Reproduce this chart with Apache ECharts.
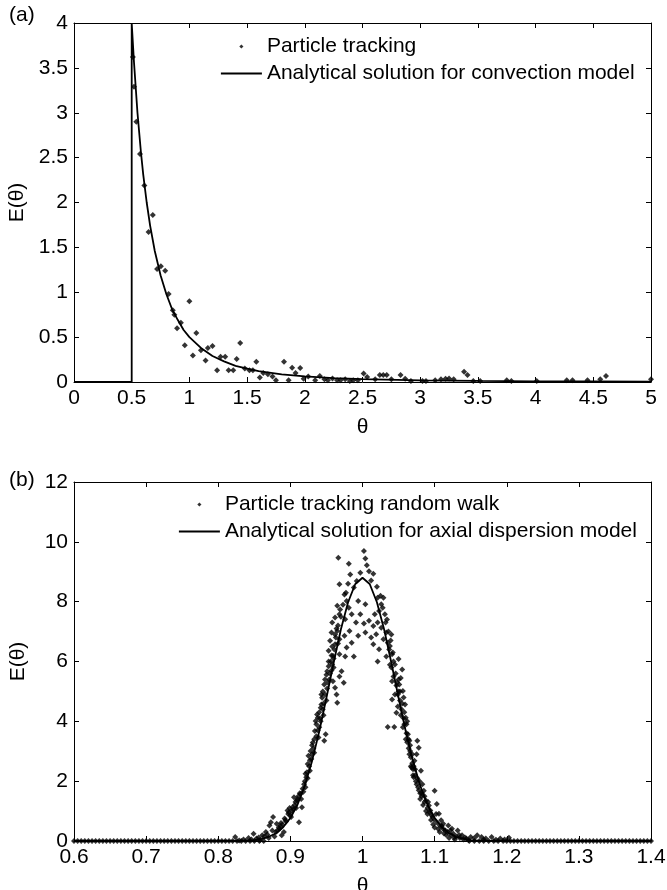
<!DOCTYPE html>
<html>
<head>
<meta charset="utf-8">
<script src="https://cdn.jsdelivr.net/npm/echarts@6/dist/echarts.min.js"></script>
<style>
html, body { margin: 0; background: #fff; }
#chart { width: 667px; height: 890px; }
</style>
</head>
<body>
<div id="chart"></div>
<script>
// (a) convection model: analytical curve
var convTheta = [0, 0.5, 0.5, 0.52, 0.55, 0.58, 0.6, 0.63, 0.66, 0.7, 0.75, 0.8, 0.85, 0.9, 0.95, 1.0,
    1.1, 1.2, 1.3, 1.4, 1.5, 1.6, 1.8, 2.0, 2.25, 2.5, 3.0, 3.5, 4.0, 4.5, 5.0];
var convE = [0, 0, 4, 3.56, 3.0, 2.56, 2.31, 2.0, 1.74, 1.46, 1.19, 0.98, 0.81, 0.69, 0.58, 0.5,
    0.38, 0.29, 0.23, 0.18, 0.15, 0.12, 0.086, 0.063, 0.044, 0.032, 0.019, 0.012, 0.008, 0.006, 0.004];

// (a) particle tracking points [theta, E]
var trackPts = [
    [0.51, 3.62], [0.52, 3.29], [0.54, 2.9], [0.572, 2.54], [0.61, 2.19], [0.646, 1.67], [0.683, 1.86], [0.72, 1.26],
    [0.753, 1.29], [0.79, 1.24], [0.82, 0.98], [0.856, 0.8], [0.87, 0.75], [0.893, 0.6], [0.926, 0.66],
    [0.96, 0.41], [1.0, 0.9], [1.03, 0.295], [1.06, 0.546], [1.1, 0.354], [1.14, 0.24], [1.16, 0.38],
    [1.2, 0.4], [1.24, 0.13], [1.27, 0.28], [1.31, 0.28], [1.34, 0.13], [1.38, 0.13], [1.41, 0.255],
    [1.44, 0.435], [1.48, 0.15], [1.52, 0.13], [1.55, 0.13], [1.58, 0.225], [1.61, 0.05], [1.64, 0.1],
    [1.68, 0.085], [1.72, 0.06], [1.75, 0.02], [1.82, 0.225], [1.86, 0.02], [1.89, 0.16], [1.92, 0.1],
    [1.96, 0.155], [1.99, 0.035], [2.03, 0.06], [2.09, 0.02], [2.13, 0.066], [2.17, 0.03], [2.2, 0.02],
    [2.24, 0.04], [2.28, 0.02], [2.31, 0.02], [2.35, 0.03], [2.39, 0.01], [2.42, 0.02], [2.46, 0.02],
    [2.51, 0.095], [2.54, 0.055], [2.61, 0.03], [2.65, 0.077], [2.68, 0.077], [2.71, 0.077], [2.75, 0.03],
    [2.83, 0.077], [2.87, 0.037], [2.92, 0.01], [3.02, 0.01], [3.05, 0.01], [3.13, 0.02], [3.18, 0.03],
    [3.22, 0.037], [3.25, 0.04], [3.29, 0.03], [3.38, 0.114], [3.41, 0.077], [3.46, 0.01], [3.52, 0.01],
    [3.75, 0.02], [3.79, 0.01], [4.01, 0.01], [4.27, 0.02], [4.32, 0.02], [4.45, 0.02], [4.56, 0.03],
    [4.61, 0.066], [5.0, 0.03]
];

// (b) axial dispersion model: analytical curve
var dispTheta = [0.6, 0.84, 0.85, 0.86, 0.87, 0.88, 0.89, 0.9, 0.91, 0.92, 0.93, 0.94, 0.95, 0.96, 0.97,
    0.98, 0.99, 1.0, 1.01, 1.02, 1.03, 1.04, 1.05, 1.06, 1.07, 1.08, 1.09, 1.1, 1.11, 1.12, 1.13, 1.14,
    1.15, 1.16, 1.4];
var dispE = [0, 0.01, 0.03, 0.07, 0.14, 0.26, 0.46, 0.77, 1.22, 1.85, 2.67, 3.66, 4.79, 5.96, 7.07,
    7.98, 8.59, 8.8, 8.59, 7.98, 7.07, 5.96, 4.79, 3.66, 2.67, 1.85, 1.22, 0.77, 0.46, 0.26, 0.14, 0.07,
    0.03, 0.01, 0];

// (b) random walk points [theta, E]
var walkPeak = [
    [0.9665, 9.47], [0.981, 9.27], [1.002, 9.69], [1.004, 9.44], [1.006, 9.22], [0.968, 8.58], [0.983, 8.91],
    [0.997, 8.97], [1.009, 9.02], [1.015, 8.93], [1.012, 8.71], [0.975, 8.24], [0.988, 8.47], [0.992, 8.69],
    [1.021, 8.13], [1.029, 8.13], [1.026, 7.91], [0.965, 7.86], [0.969, 7.74], [0.978, 8.02], [0.981, 7.8],
    [0.994, 8.02], [1.004, 7.91], [1.017, 7.58], [1.023, 7.69], [1.031, 7.58], [1.032, 7.3], [0.958, 7.3],
    [0.962, 7.47], [0.968, 7.58], [0.976, 7.41], [0.985, 7.58], [0.991, 7.3], [0.997, 7.58], [1.002, 7.27],
    [1.009, 7.36], [1.015, 7.19], [1.021, 7.3], [1.026, 7.13], [1.033, 6.97], [0.957, 6.97], [0.965, 7.02],
    [0.975, 6.86], [0.982, 7.02], [0.994, 6.86], [1.004, 6.97], [1.012, 6.8], [1.019, 6.91], [1.029, 6.74],
    [1.035, 6.63], [0.955, 6.69], [0.962, 6.58], [0.968, 6.74], [0.978, 6.47], [0.985, 6.63], [1.015, 6.58],
    [1.023, 6.41], [1.038, 6.52], [1.041, 6.24], [0.953, 6.36], [0.959, 6.19], [0.968, 6.24], [1.05, 6.08],
    [0.98, 8.6], [0.977, 8.3], [1.02, 8.5], [1.025, 8.2], [0.973, 7.9], [1.028, 7.8], [0.97, 7.5], [1.034, 7.4]
];
var walkLeft = [
    [0.8235, 0.13], [0.829, 0.02], [0.835, 0.05], [0.842, 0.1], [0.846, 0.05], [0.849, 0.24], [0.853, 0.08],
    [0.856, 0.12], [0.858, 0.03], [0.861, 0.19], [0.864, 0.15], [0.866, 0.3], [0.868, 0.22], [0.87, 0.1],
    [0.871, 0.52], [0.873, 0.63], [0.875, 0.35], [0.876, 0.8], [0.878, 0.15], [0.88, 0.3], [0.881, 0.58],
    [0.884, 0.45], [0.885, 0.41], [0.887, 0.6], [0.888, 0.19], [0.891, 0.3], [0.893, 0.7], [0.896, 1.02],
    [0.897, 0.9], [0.9, 0.85], [0.902, 1.0], [0.903, 1.13], [0.905, 1.46], [0.906, 1.2], [0.909, 1.35],
    [0.91, 1.4], [0.912, 0.63], [0.913, 1.6], [0.914, 1.57], [0.916, 1.13], [0.917, 1.75], [0.919, 1.9],
    [0.92, 2.0], [0.922, 2.13], [0.923, 2.3], [0.924, 2.57], [0.925, 2.85], [0.926, 2.5], [0.928, 3.01],
    [0.929, 2.74], [0.93, 2.9], [0.931, 3.29], [0.932, 3.1], [0.934, 3.68], [0.935, 4.01], [0.936, 3.5],
    [0.937, 4.23], [0.938, 4.12], [0.939, 3.46], [0.94, 3.8], [0.941, 4.1], [0.942, 4.45], [0.943, 4.56],
    [0.944, 4.79], [0.945, 4.4], [0.946, 4.6], [0.947, 3.35], [0.947, 5.23], [0.948, 4.9], [0.949, 3.57],
    [0.95, 5.56], [0.951, 5.67], [0.951, 5.1], [0.953, 5.84], [0.954, 5.4], [0.956, 6.0], [0.957, 5.7],
    [0.958, 5.9], [0.959, 5.34], [0.96, 6.1], [0.961, 6.4], [0.962, 5.12], [0.963, 6.8], [0.964, 4.9],
    [0.965, 4.62], [0.966, 7.2], [0.968, 5.5], [0.971, 5.67], [0.974, 5.29], [0.976, 6.17], [0.988, 6.17],
    [0.882, 0.35], [0.886, 0.5], [0.889, 0.55], [0.892, 0.75], [0.894, 0.65], [0.898, 0.95], [0.899, 1.1],
    [0.901, 0.8], [0.904, 1.05], [0.907, 1.3], [0.908, 1.1], [0.911, 1.5], [0.915, 1.4], [0.918, 1.65],
    [0.921, 1.8], [0.921, 2.25], [0.924, 2.1], [0.927, 2.7], [0.927, 2.35], [0.93, 3.2], [0.933, 2.95],
    [0.933, 3.4], [0.936, 3.9], [0.938, 3.7], [0.94, 4.3], [0.942, 4.0], [0.943, 4.9], [0.945, 5.0],
    [0.946, 4.2], [0.948, 5.4], [0.95, 4.7], [0.952, 5.3], [0.953, 6.0], [0.955, 5.6], [0.957, 6.2],
    [0.958, 6.5], [0.96, 5.8], [0.962, 6.9], [0.964, 7.1], [0.966, 6.6]
];
var walkRight = [
    [1.021, 6.0], [1.033, 6.17], [1.036, 7.0], [1.038, 5.89], [1.039, 6.7], [1.041, 5.34], [1.041, 4.73],
    [1.042, 6.3], [1.043, 6.0], [1.035, 3.81], [1.044, 3.81], [1.046, 5.6], [1.047, 4.29], [1.048, 5.3],
    [1.049, 4.9], [1.05, 5.0], [1.051, 5.23], [1.052, 4.7], [1.053, 5.45], [1.054, 4.4], [1.055, 5.73],
    [1.056, 5.01], [1.057, 4.1], [1.058, 3.9], [1.059, 4.56], [1.06, 4.12], [1.061, 3.6], [1.062, 3.3],
    [1.063, 3.57], [1.064, 3.1], [1.065, 3.35], [1.066, 3.01], [1.067, 2.8], [1.068, 2.46], [1.069, 2.6],
    [1.07, 2.4], [1.071, 2.13], [1.072, 2.68], [1.073, 2.2], [1.074, 2.0], [1.075, 2.9], [1.076, 3.35],
    [1.077, 1.8], [1.078, 3.12], [1.08, 1.6], [1.081, 2.35], [1.082, 1.5], [1.083, 1.9], [1.085, 1.68],
    [1.086, 1.3], [1.088, 1.35], [1.09, 1.1], [1.092, 1.19], [1.093, 0.95], [1.094, 1.02], [1.096, 0.85],
    [1.097, 0.8], [1.1, 1.68], [1.1, 0.7], [1.103, 1.24], [1.104, 0.6], [1.106, 0.91], [1.108, 0.5],
    [1.109, 0.69], [1.112, 0.58], [1.112, 0.4], [1.115, 0.35], [1.118, 0.3], [1.119, 0.52], [1.123, 0.2],
    [1.124, 0.41], [1.126, 0.24], [1.13, 0.15], [1.132, 0.35], [1.135, 0.1], [1.138, 0.19], [1.14, 0.05],
    [1.144, 0.08], [1.15, 0.13], [1.159, 0.19], [1.165, 0.13], [1.171, 0.08], [1.179, 0.13], [1.191, 0.08],
    [1.203, 0.11],
    [1.037, 6.4], [1.04, 5.8], [1.04, 6.9], [1.043, 5.5], [1.045, 5.9], [1.045, 4.9], [1.047, 5.2],
    [1.049, 4.5], [1.05, 5.4], [1.052, 5.0], [1.053, 4.2], [1.055, 4.6], [1.056, 3.8], [1.057, 4.8],
    [1.058, 4.3], [1.06, 3.4], [1.061, 3.9], [1.062, 4.0], [1.064, 3.4], [1.065, 2.9], [1.066, 3.2],
    [1.067, 2.5], [1.069, 2.9], [1.07, 2.2], [1.071, 2.5], [1.073, 2.4], [1.075, 1.9], [1.076, 2.1],
    [1.078, 1.7], [1.079, 2.0], [1.08, 1.4], [1.082, 1.6], [1.084, 1.2], [1.086, 1.5], [1.088, 1.0],
    [1.09, 0.9], [1.091, 1.3], [1.095, 0.7], [1.098, 0.55], [1.1, 0.45], [1.102, 0.9], [1.105, 0.4],
    [1.107, 0.3], [1.11, 0.5], [1.113, 0.25], [1.116, 0.2], [1.12, 0.1], [1.122, 0.35], [1.127, 0.12],
    [1.128, 0.05], [1.134, 0.2], [1.142, 0.12], [1.147, 0.03], [1.155, 0.1], [1.168, 0.05], [1.185, 0.04],
    [1.197, 0.05]
];
// theta values where random-walk points sit on zero
var walkZeroTheta = [0.6, 0.605, 0.61, 0.615, 0.62, 0.625, 0.63, 0.635, 0.64, 0.645, 0.65, 0.655, 0.66,
    0.665, 0.67, 0.675, 0.68, 0.685, 0.69, 0.695, 0.7, 0.705, 0.71, 0.715, 0.72, 0.725, 0.73, 0.735, 0.74,
    0.745, 0.75, 0.755, 0.76, 0.765, 0.77, 0.775, 0.78, 0.785, 0.79, 0.795, 0.8, 0.805, 0.81, 0.815, 0.82,
    0.826, 0.832, 0.838, 0.844, 0.85, 0.857, 0.863, 1.148, 1.155, 1.162, 1.168, 1.175, 1.182, 1.188, 1.195,
    1.2, 1.205, 1.21, 1.215, 1.22, 1.225, 1.23, 1.235, 1.24, 1.245, 1.25, 1.255, 1.26, 1.265, 1.27, 1.275,
    1.28, 1.285, 1.29, 1.295, 1.3, 1.305, 1.31, 1.315, 1.32, 1.325, 1.33, 1.335, 1.34, 1.345, 1.35, 1.355,
    1.36, 1.365, 1.37, 1.375, 1.38, 1.385, 1.39, 1.395, 1.4];

var FONT = "Liberation Sans";
var FS = 21;
var BLACK = "#000";
// legend marks: a small diamond centred in a 41x5 box, and a plain line
var DOT_ICON = "path://M0,0h0.01M41,5h0.01M20.5,0.4L22.6,2.5L20.5,4.6L18.4,2.5Z";

function pairs(xs, ys) {
    return xs.map(function (x, i) { return [x, ys[i]]; });
}

function xAxes(gi, min, max, step) {
    var base = {
        gridIndex: gi, type: "value", min: min, max: max, interval: step,
        splitLine: { show: false },
        axisLine: { show: true, onZero: false, lineStyle: { color: BLACK, width: 1 } },
        axisTick: { show: true, inside: true, length: 5, lineStyle: { color: BLACK } }
    };
    return [
        Object.assign({}, base, {
            position: "bottom",
            name: "θ", nameLocation: "middle", nameGap: 35,
            nameTextStyle: { color: BLACK, fontSize: FS, fontFamily: FONT },
            axisLabel: { color: BLACK, fontSize: FS, fontFamily: FONT, margin: 6, showMinLabel: true, showMaxLabel: true }
        }),
        Object.assign({}, base, { position: "top", axisLabel: { show: false } })
    ];
}

function yAxes(gi, min, max, step) {
    var base = {
        gridIndex: gi, type: "value", min: min, max: max, interval: step,
        splitLine: { show: false },
        axisLine: { show: true, onZero: false, lineStyle: { color: BLACK, width: 1 } },
        axisTick: { show: true, inside: true, length: 5, lineStyle: { color: BLACK } }
    };
    return [
        Object.assign({}, base, {
            position: "left",
            name: "E(θ)", nameLocation: "middle", nameGap: 45, nameRotate: 90,
            nameTextStyle: { color: BLACK, fontSize: FS, fontFamily: FONT },
            axisLabel: { color: BLACK, fontSize: FS, fontFamily: FONT, margin: 6, showMinLabel: true, showMaxLabel: true }
        }),
        Object.assign({}, base, { position: "right", axisLabel: { show: false } })
    ];
}

function legendFor(left, top, gap, dotName, lineName) {
    return {
        left: left, top: top, orient: "vertical", itemGap: gap, itemWidth: 41, itemHeight: 5, padding: 0,
        textStyle: { color: BLACK, fontSize: FS, fontFamily: FONT },
        data: [
            { name: dotName, icon: DOT_ICON, itemStyle: { color: BLACK } },
            { name: lineName, itemStyle: { opacity: 0 }, lineStyle: { color: BLACK, width: 1.8, opacity: 1 } }
        ]
    };
}

var walkPts = walkPeak.concat(walkLeft, walkRight, walkZeroTheta.map(function (t) { return [t, 0]; }));

var myChart = echarts.init(document.getElementById("chart"));
var option = {
    animation: false,
    backgroundColor: "#fff",
    title: [
        { text: "(a)", left: 9, top: 5, padding: 0, textStyle: { color: BLACK, fontSize: FS, fontWeight: "normal", fontFamily: FONT } },
        { text: "(b)", left: 9, top: 470, padding: 0, textStyle: { color: BLACK, fontSize: FS, fontWeight: "normal", fontFamily: FONT } }
    ],
    grid: [
        { left: 74, top: 23, width: 577, height: 359, outerBoundsMode: "none" },
        { left: 74, top: 482, width: 577, height: 359, outerBoundsMode: "none" }
    ],
    legend: [
        legendFor(220, 36, 6, "Particle tracking", "Analytical solution for convection model"),
        legendFor(178, 494, 6, "Particle tracking random walk", "Analytical solution for axial dispersion model")
    ],
    xAxis: xAxes(0, 0, 5, 0.5).concat(xAxes(1, 0.6, 1.4, 0.1)),
    yAxis: yAxes(0, 0, 4, 0.5).concat(yAxes(1, 0, 12, 2)),
    series: [
        {
            name: "Analytical solution for convection model", type: "line",
            xAxisIndex: 0, yAxisIndex: 0, symbol: "none",
            lineStyle: { color: BLACK, width: 1.8 }, itemStyle: { color: BLACK },
            data: pairs(convTheta, convE)
        },
        {
            name: "Particle tracking", type: "scatter",
            xAxisIndex: 0, yAxisIndex: 0, symbol: "diamond", symbolSize: 6,
            itemStyle: { color: BLACK },
            data: trackPts
        },
        {
            name: "Analytical solution for axial dispersion model", type: "line",
            xAxisIndex: 2, yAxisIndex: 2, symbol: "none",
            lineStyle: { color: BLACK, width: 1.8 }, itemStyle: { color: BLACK },
            data: pairs(dispTheta, dispE)
        },
        {
            name: "Particle tracking random walk", type: "scatter",
            xAxisIndex: 2, yAxisIndex: 2, symbol: "diamond", symbolSize: 6,
            itemStyle: { color: BLACK },
            data: walkPts
        }
    ]
};
myChart.setOption(option);
window.addEventListener("resize", function () {
    myChart.resize();
});
</script>
</body>
</html>
